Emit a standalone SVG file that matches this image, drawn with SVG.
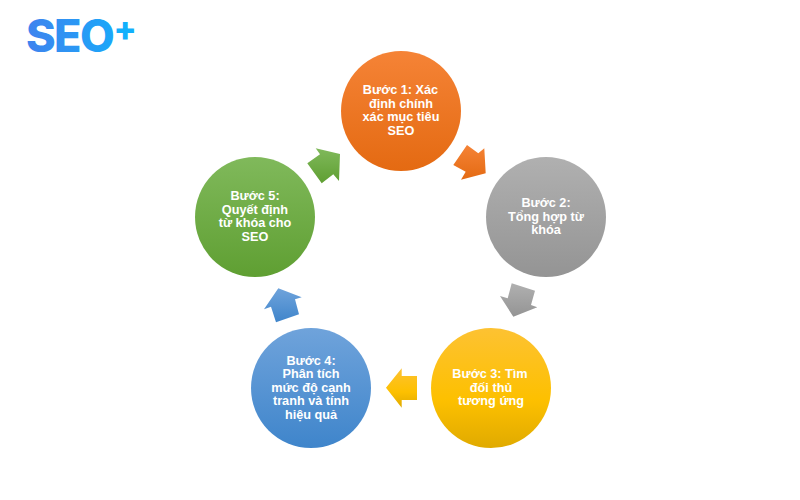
<svg xmlns="http://www.w3.org/2000/svg" width="800" height="500" viewBox="0 0 800 500">
<style>
.t{font:bold 12.7px "Liberation Sans",Arial,sans-serif;fill:#fff;text-anchor:middle}
.l{font-family:Inter,"Liberation Sans",sans-serif;font-weight:800}
</style>
<defs>
<linearGradient id="o" x1="0" y1="0" x2="0" y2="1"><stop offset="0" stop-color="#f58336"/><stop offset="1" stop-color="#e46a12"/></linearGradient>
<linearGradient id="g" x1="0" y1="0" x2="0" y2="1"><stop offset="0" stop-color="#b0b0b0"/><stop offset="1" stop-color="#949494"/></linearGradient>
<linearGradient id="y" x1="0" y1="0" x2="0" y2="1"><stop offset="0" stop-color="#fdc232"/><stop offset=".6" stop-color="#fdc000"/><stop offset="1" stop-color="#e0aa00"/></linearGradient>
<linearGradient id="b" x1="0" y1="0" x2="0" y2="1"><stop offset="0" stop-color="#6fa3db"/><stop offset="1" stop-color="#3f85cb"/></linearGradient>
<linearGradient id="n" x1="0" y1="0" x2="0" y2="1"><stop offset="0" stop-color="#80b95b"/><stop offset="1" stop-color="#5f9f32"/></linearGradient>
<linearGradient id="logo" gradientUnits="userSpaceOnUse" x1="27" y1="0" x2="135" y2="0"><stop offset="0" stop-color="#3f83ee"/><stop offset="1" stop-color="#12b0fc"/></linearGradient>
</defs>
<rect width="800" height="500" fill="#fff"/>
<g id="logo-mark">
<text class="l" x="26" y="52" font-size="45" fill="url(#logo)" letter-spacing="-1.6">SEO</text>
<text class="l" x="113.5" y="40.5" font-size="34" fill="#12b0fc">+</text>
</g>
<g id="connectors">
<polygon fill="url(#o)" points="467,145 478.3,153.3 484.3,148.3 485.7,173.3 461,179.7 465.7,171.7 453.3,165"/>
<polygon fill="url(#g)" points="511.7,283.3 535,290.7 531,305 537.3,307.3 513.3,316.7 500,296 507.7,298.3"/>
<polygon fill="url(#y)" points="386,387.7 401.7,368.3 401.7,376 417,376 417,400 401.7,400 401.7,407.7"/>
<polygon fill="url(#b)" points="278.3,288.3 301.7,297.3 295,299.3 299,314.3 276,322.3 271,306.7 264,309.3"/>
<polygon fill="url(#n)" points="340,154 315.7,148.3 320,154.3 307.3,163.3 321.7,183.3 333.3,174.3 339,181"/>
</g>
<g id="step1"><circle cx="401" cy="111" r="60" fill="url(#o)"/>
<text class="t"><tspan x="400.5" y="94">Bước 1: Xác</tspan><tspan x="401" y="107.7">định chính</tspan><tspan x="401" y="121.4">xác mục tiêu</tspan><tspan x="401" y="135">SEO</tspan></text></g>
<g id="step2"><circle cx="546" cy="217" r="60" fill="url(#g)"/>
<text class="t"><tspan x="546" y="207">Bước 2:</tspan><tspan x="546" y="220.6">Tổng hợp từ</tspan><tspan x="546" y="234.2">khóa</tspan></text></g>
<g id="step3"><circle cx="491" cy="388" r="60" fill="url(#y)"/>
<text class="t"><tspan x="490" y="378">Bước 3: Tìm</tspan><tspan x="491" y="391.6">đối thủ</tspan><tspan x="491" y="405.2">tương ứng</tspan></text></g>
<g id="step4"><circle cx="311" cy="388" r="60" fill="url(#b)"/>
<text class="t"><tspan x="311" y="364.6">Bước 4:</tspan><tspan x="311" y="378.2">Phân tích</tspan><tspan x="311" y="391.8">mức độ cạnh</tspan><tspan x="311" y="405.4">tranh và tính</tspan><tspan x="311" y="419">hiệu quả</tspan></text></g>
<g id="step5"><circle cx="255" cy="217" r="60" fill="url(#n)"/>
<text class="t"><tspan x="255" y="200">Bước 5:</tspan><tspan x="255" y="213.6">Quyết định</tspan><tspan x="255" y="227.2">từ khóa cho</tspan><tspan x="255" y="240.8">SEO</tspan></text></g>
</svg>
